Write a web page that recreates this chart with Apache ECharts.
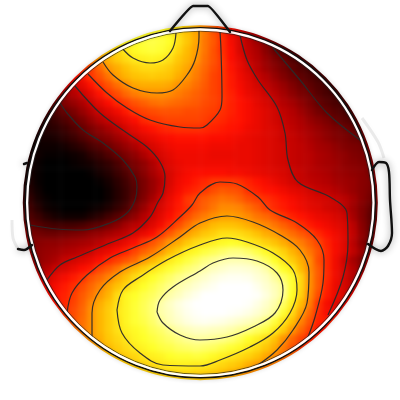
<!DOCTYPE html>
<html><head><meta charset="utf-8">
<style>html,body{margin:0;padding:0;background:#fff}#c{width:400px;height:400px}
#c canvas:first-child{filter:blur(2.4px)}</style>
<script src="https://cdn.jsdelivr.net/npm/echarts@6/dist/echarts.min.js"></script>
</head><body><div id="c"></div>
<script>
// first column of each row of the scalp map (-1 is the rim column, -1st row is the rim row)
const rowStart=[16,15,12,10,8,7,6,5,4,3,2,2,1,1,1,0,0,0,0,0,0,0,0,0,0,0,0,1,1,1,2,2,3,4,5,6,7,8,10,12,15,15];
const rowValues=[
[74,70,65,60,55,49,44,38,32],
[74,73,68,63,59,53,47,42,35,29,23],
[74,77,78,77,75,69,64,59,52,48,42,36,31,26,22,18,14],
[67,71,74,76,77,76,73,67,62,58,52,47,42,37,31,27,24,19,14,11,9],
[57,61,65,68,71,72,73,72,69,64,61,57,51,47,43,37,33,28,25,21,17,14,11,9],
[44,50,57,60,63,66,68,68,67,65,62,59,54,50,46,43,38,34,30,26,22,19,16,13,11,9],
[38,43,47,52,58,61,63,64,65,64,63,60,57,53,49,45,43,39,35,32,28,25,21,18,15,13,11,9],
[29,33,38,43,47,51,55,59,60,60,60,59,56,54,51,48,45,43,39,36,33,30,27,24,21,18,15,13,11,9,8],
[21,25,29,33,38,43,46,50,53,55,56,56,55,53,51,49,47,45,43,40,37,34,32,29,26,23,20,17,15,12,10,8],
[12,18,21,24,29,33,37,41,44,47,49,51,52,51,50,49,48,46,45,43,40,38,36,33,31,28,25,23,20,17,14,12,10,9],
[8,11,14,17,21,25,29,32,35,39,43,45,46,47,47,47,46,46,45,44,42,40,38,36,34,32,30,27,25,22,19,16,14,12,10,9],
[6,8,11,14,17,21,25,28,31,34,37,41,43,44,45,45,45,45,44,42,41,39,38,36,34,32,30,28,26,24,21,19,17,14,12,11],
[5,5,6,8,11,14,17,20,23,26,30,33,36,38,40,41,42,42,42,41,40,39,38,37,35,34,32,31,29,27,25,23,21,19,17,15,13,12],
[3,3,4,6,8,11,14,17,19,22,25,29,32,34,36,37,38,38,38,38,37,37,36,35,34,33,32,31,29,28,26,24,22,20,18,17,15,14],
[2,2,2,3,5,7,10,12,15,18,21,24,28,31,33,35,36,36,36,36,35,35,35,34,34,33,32,31,30,28,27,25,23,22,20,18,17,16,15],
[4,2,1,1,1,2,3,6,8,11,14,17,20,24,28,31,33,35,35,35,35,34,34,34,34,34,33,32,31,30,28,27,26,24,23,21,20,18,17,16],
[3,1,0,0,0,1,2,3,5,7,10,14,17,20,24,29,32,34,35,35,35,35,35,35,34,34,33,32,31,30,28,27,26,24,23,22,20,19,18,17],
[3,1,0,0,0,0,0,1,3,5,8,11,15,19,23,27,31,34,36,37,37,37,37,36,36,35,34,33,32,31,29,28,26,25,24,22,21,20,19,17],
[4,1,0,0,0,0,0,0,1,3,6,9,13,17,21,25,31,35,37,39,41,43,43,43,42,40,38,36,34,32,30,28,27,26,25,23,22,21,19,18],
[5,2,0,0,0,0,0,0,0,2,5,8,12,17,21,26,32,36,39,41,43,46,48,47,46,42,40,38,37,35,33,32,30,28,27,25,23,21,19,17],
[7,3,1,0,0,0,0,0,0,2,5,8,13,18,23,29,34,38,43,45,48,50,52,51,49,46,44,42,40,38,36,34,32,31,30,28,26,23,19,16],
[9,5,2,1,0,0,0,1,2,4,7,10,16,21,27,31,35,39,42,46,49,52,55,55,54,51,48,44,41,39,37,35,33,32,30,29,26,22,18,14],
[11,8,5,3,2,2,2,4,6,9,12,16,20,25,29,33,37,41,46,50,53,56,58,58,57,55,52,50,47,43,40,38,36,34,33,31,29,23,18,13],
[14,12,10,9,9,9,10,12,13,16,19,23,26,28,32,36,41,46,51,56,59,62,63,63,62,60,57,55,52,49,46,42,39,37,35,33,31,26,19,14],
[17,16,15,15,16,17,18,20,21,23,25,27,31,34,37,43,48,53,58,61,64,66,69,69,68,66,63,60,58,54,51,48,45,41,38,35,32,27,20,14],
[18,19,20,20,21,22,23,24,26,29,31,34,37,43,47,51,57,60,64,68,70,72,74,75,74,71,69,66,63,60,56,53,49,45,40,36,32,26,19,14],
[19,20,21,22,24,25,27,29,32,34,37,40,45,49,52,57,62,66,72,74,77,79,81,83,83,81,78,74,70,66,61,57,52,47,41,36,32,27,21,16],
[20,22,24,28,30,32,34,37,41,44,47,50,57,61,65,71,74,77,80,83,85,87,88,88,87,84,80,75,70,65,60,55,46,41,35,29,23,18],
[22,25,29,31,34,37,39,45,48,52,58,62,66,70,73,76,79,82,84,87,90,92,94,94,93,91,87,81,75,71,62,55,48,41,35,30,25,19],
[28,30,33,36,39,42,47,50,54,59,63,68,72,75,78,81,84,86,89,92,95,97,98,98,97,94,91,86,81,76,67,56,48,41,35,30,25],
[33,36,39,42,46,50,54,59,63,67,72,75,78,81,84,87,90,93,96,98,100,100,100,100,97,93,89,85,76,67,56,48,40,34,30,27],
[35,38,40,44,48,52,57,61,68,73,75,78,80,83,87,90,94,97,100,100,100,100,100,100,99,95,90,85,75,66,55,46,39,34,31],
[38,41,45,49,55,60,64,69,73,76,79,82,87,91,95,98,100,100,100,100,100,100,99,96,92,87,80,72,62,53,42,36,32],
[42,46,50,56,61,65,70,73,76,79,82,87,90,94,97,99,100,100,100,99,98,96,93,89,85,76,68,58,50,41,36],
[47,51,56,61,65,69,73,76,78,81,85,89,92,95,97,98,97,96,94,92,90,87,83,77,70,63,54,47,40],
[52,56,61,65,69,72,74,76,79,81,84,87,89,91,91,90,89,87,85,83,80,77,71,65,57,50,44,38],
[56,60,64,67,70,73,75,77,79,81,83,85,86,86,85,84,82,79,75,72,68,63,56,50,45,40],
[58,62,65,68,71,73,75,77,78,80,81,82,81,80,78,76,74,71,68,64,60,53,47,42],
[63,65,67,70,72,73,75,76,76,77,76,74,72,70,68,66,63,59,55,50],
[65,66,68,70,71,72,72,71,71,69,67,65,63,60,57,53],
[66,67,67,67,66,65,64,62,60,58,55],
[64,65,65,65,64,63,62,60,58,56,53]
];
// contour lines, as [x, y] in picture units
const level1Left=[[60,103],[67,113],[83,130],[103,143],[123,160],[135,177],[137,187],[135,200],[127,213],[110,223],[83,230],[57,229],[30,225]];
const level1Right=[[273,48],[300,80],[327,113],[360,140]];
const level2Left=[[75,86],[100,113],[127,133],[147,147],[160,162],[165,177],[163,193],[158,202],[150,217],[133,233],[110,243],[77,257],[60,265],[47,280]];
const level2Right=[[240,35],[247,60],[258,80],[277,107],[285,133],[288,160],[298,182],[330,197],[347,213],[348,243],[343,277],[328,315]];
const level3Top=[[88,74],[107,93],[127,108],[150,120],[180,127],[200,128],[207,125],[220,110],[222,97],[221,50],[220,32]];
const level3Bottom=[[67,313],[72,293],[87,275],[110,258],[133,248],[157,237],[180,217],[192,205],[200,193],[220,182],[237,184],[258,197],[270,210],[297,223],[317,240],[324,260],[323,283],[315,317],[308,337]];
const level4Top=[[103,62],[113,75],[133,88],[157,93],[173,90],[187,75],[195,60],[199,37],[199,30]];
const level4Bottom=[[92,337],[92,313],[100,290],[120,272],[150,257],[180,237],[200,223],[227,216],[253,222],[280,235],[300,250],[309,272],[307,303],[293,330],[277,350],[258,365]];
const level5Top=[[122,48],[133,58],[150,63],[163,60],[173,48],[176,33]];
const level5Bottom=[[117,310],[123,290],[140,277],[167,260],[200,245],[227,238],[247,242],[273,253],[293,270],[297,290],[290,313],[273,333],[250,347],[220,360],[200,366],[163,365],[140,353],[122,333],[117,310]];
const level6=[[157,312],[160,300],[173,287],[200,271],[213,263],[233,258],[257,261],[277,273],[283,290],[275,313],[253,327],[227,337],[200,340],[180,335],[163,323],[157,312]];
// nose and ears
const nose=[[170,31],[193,6],[208,6],[230,32]];
const rightEar=[[372,170],[379,162],[386,163],[389,172],[390,200],[392,233],[388,246],[381,251],[368,244]];
const leftEarLow=[[32,245],[24,250],[18,249]];
const leftEarTop=[[27,163],[24,164]];
const leftEarGhost=[[18,249],[13,238],[12,220]];
const rightHaze=[[362,118],[378,142],[384,158]];

const cols=[...Array(42).keys()], rowsIdx=[...Array(42).keys()];
const cells=[];
rowValues.forEach((row,r)=>{
  const s = rowStart[r]+1;
  const rimPad = 3;
  for(let k=1;k<=rimPad;k++){ if(s-k>=0) cells.push([s-k,r,row[0]]); }
  row.forEach((v,i)=>cells.push([s+i,r,v]));
  for(let k=0;k<rimPad;k++){ const c=s+row.length+k; if(c<42) cells.push([c,r,row[row.length-1]]); }
});

const contours=[level1Left,level1Right,level2Left,level2Right,level3Top,level3Bottom,level4Top,level4Bottom,level5Top,level5Bottom,level6];
const contourSeries=contours.map(d=>({type:'line',xAxisIndex:1,yAxisIndex:1,data:d,smooth:0.35,symbol:'none',silent:true,zlevel:1,z:6,
  lineStyle:{color:'#2a2a2a',width:1.2,opacity:.95}}));
const headSeries=[nose,rightEar,leftEarLow,leftEarTop].map((d,i)=>({type:'line',xAxisIndex:1,yAxisIndex:1,data:d,smooth:i==0?0.1:0.3,symbol:'none',silent:true,zlevel:1,z:8,
  lineStyle:{color:'#111',width:2.4,shadowBlur:7,shadowColor:'rgba(0,0,0,.45)',cap:'round'}}));
const hazeSeries=[leftEarGhost,rightHaze].map(d=>({type:'line',xAxisIndex:1,yAxisIndex:1,data:d,smooth:0.3,symbol:'none',silent:true,zlevel:1,z:5.5,
  lineStyle:{color:'rgba(0,0,0,.08)',width:3,shadowBlur:8,shadowColor:'rgba(0,0,0,.25)'}}));

const chart=echarts.init(document.getElementById('c'),null,{renderer:'canvas'});
const cx=200.3, cy=202.7;
chart.setOption({
  animation:false,backgroundColor:'#fff',
  grid:[{left:16.75,top:19.75,width:367.5,height:367.5},{left:0,top:0,width:400,height:400}],
  xAxis:[{type:'category',gridIndex:0,data:cols,show:false},{type:'value',gridIndex:1,min:0,max:400,show:false}],
  yAxis:[{type:'category',gridIndex:0,data:rowsIdx,inverse:true,show:false},{type:'value',gridIndex:1,min:0,max:400,inverse:true,show:false}],
  visualMap:{show:false,min:0,max:100,seriesIndex:0,calculable:false,
    inRange:{color:['#000000','#5a0000','#b30000','#ff0e00','#ff6700','#ffbf00','#ffff28','#ffffae','#ffffff']}},
  graphic:[
    {type:'ring',silent:true,zlevel:1,z:5,shape:{cx,cy,r:320,r0:177.5},style:{fill:'#fff'}},
    {type:'circle',silent:true,zlevel:1,z:7,shape:{cx,cy,r:175},style:{fill:'none',stroke:'#111',lineWidth:1.6,shadowBlur:5,shadowColor:'rgba(0,0,0,.45)'}},
    {type:'circle',silent:true,zlevel:1,z:7,shape:{cx,cy,r:171.6},style:{fill:'none',stroke:'#222',lineWidth:.7}},
    {type:'circle',silent:true,zlevel:1,z:7,shape:{cx,cy,r:173.2},style:{fill:'none',stroke:'#fff',lineWidth:2.3}}
  ],
  series:[{type:'heatmap',xAxisIndex:0,yAxisIndex:0,data:cells,silent:true,zlevel:0,z:2,progressive:0,itemStyle:{borderWidth:0}}]
    .concat(contourSeries,headSeries,hazeSeries)
});
</script></body></html>
